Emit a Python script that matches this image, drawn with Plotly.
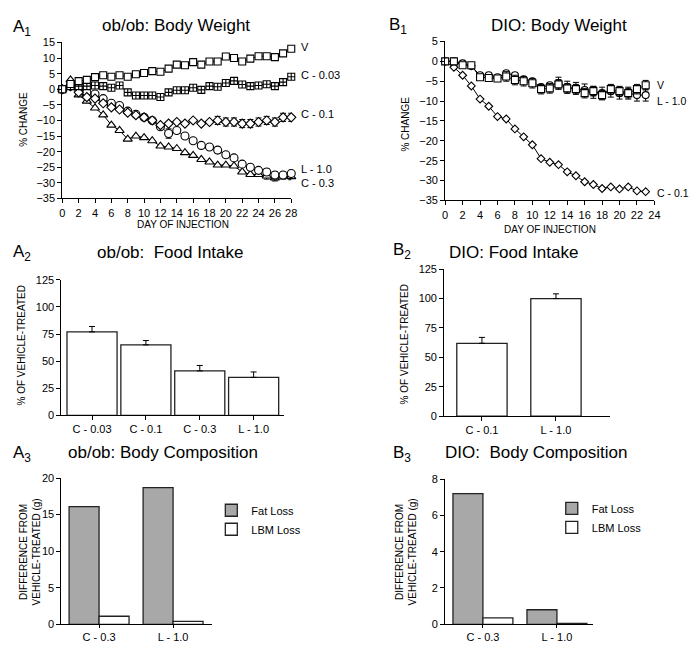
import plotly.graph_objects as go

# page is 697x653; browser body has an 8px margin, so the figure is 681x637
OFF = 8
FW, FH = 681, 637

# ---------------- data ----------------
days_a = list(range(0, 29))
a1_v =    [0, 1.7, 2.6, 3.0, 3.9, 4.5, 4.0, 4.5, 4.0, 4.8, 5.2, 5.8, 5.6, 6.6, 7.9, 7.7, 8.7, 7.9, 8.9, 8.9, 10.5, 10.0, 8.9, 9.8, 10.6, 10.6, 10.3, 11.5, 13.0]
a1_c003 = [0, 1.0, 1.0, 1.0, 1.2, 1.0, 0.5, 1.2, -1.0, -2.0, -2.0, -2.0, -2.5, -1.0, -0.3, -0.3, 0.5, -0.2, 1.0, 0.8, 2.0, 2.7, 1.5, 1.0, 1.2, 1.6, 1.0, 2.3, 4.0]
a1_c01 =  [0, 1.0, -1.0, -2.5, -3.0, -4.5, -5.8, -6.5, -7.5, -8.3, -9.0, -10.0, -11.5, -11.0, -10.5, -11.0, -10.0, -11.0, -10.5, -10.0, -10.5, -10.5, -11.0, -11.0, -10.5, -10.0, -10.5, -9.0, -9.0]
a1_c01_err = [0]*19 + [1.3]*10
a1_l10 =  [0, 1.0, 0.0, -1.0, -1.5, -3.0, -4.5, -5.2, -7.0, -8.0, -9.0, -10.0, -12.0, -14.2, -13.2, -15.0, -16.5, -18.0, -18.5, -19.5, -21.0, -22.0, -24.0, -25.0, -26.0, -26.5, -27.5, -27.5, -27.0]
a1_l10_err = [0]*13 + [1.5] + [0]*5 + [1.0] + [0]*5 + [1.0]*4
a1_c03 =  [0, 3.0, -1.8, -3.8, -6.0, -8.2, -11.5, -13.2, -16.0, -15.0, -15.5, -16.5, -18.2, -18.5, -19.0, -20.3, -21.2, -22.5, -23.3, -24.3, -24.3, -24.6, -26.5, -27.3, -27.3, -27.8, -28.4, -27.8, -28.0]
a1_c03_err = [0]*25 + [1.0]*4

days_b = list(range(0, 24))
b1_c01 = [0, -1.5, -3.5, -6.2, -9.5, -11.3, -13.9, -14.5, -17.0, -19.0, -21.0, -24.5, -25.4, -26.0, -27.8, -28.8, -30.3, -31.0, -32.0, -31.6, -32.1, -31.6, -32.6, -32.8]
b1_v =   [0, 0, -1.0, -1.0, -4.0, -4.2, -4.3, -3.8, -4.7, -5.0, -5.5, -7.0, -6.8, -5.8, -6.8, -7.0, -8.0, -7.5, -8.5, -7.0, -7.5, -8.0, -7.0, -6.0]
b1_v_err = [0]*7 + [1.2]*17
b1_l10 = [0, 0, -0.5, -1.2, -3.5, -3.5, -4.0, -3.0, -3.5, -4.5, -5.0, -6.5, -6.0, -5.5, -6.5, -6.8, -7.2, -7.8, -8.0, -7.5, -8.0, -8.0, -8.5, -8.5]
b1_l10_err = [0]*13 + [1.5]*11

a2_cats = ["C - 0.03", "C - 0.1", "C - 0.3", "L - 1.0"]
a2_vals = [77, 65, 41, 35]
a2_err = [5, 4, 5, 5]

b2_cats = ["C - 0.1", "L - 1.0"]
b2_vals = [62, 100]
b2_err = [5, 4]

a3_cats = ["C - 0.3", "L - 1.0"]
a3_fat = [16.1, 18.7]
a3_lbm = [1.1, 0.4]

b3_cats = ["C - 0.3", "L - 1.0"]
b3_fat = [7.2, 0.8]
b3_lbm = [0.35, 0.05]

# ---------------- helpers ----------------
FONT = "Liberation Sans, Arial, Helvetica, sans-serif"

def fx(px):
    return (px - OFF) / FW

def fy(py):
    return (FH - (py - OFF)) / FH

def dx(a, b):
    return [fx(a), fx(b)]

def dy(top, bottom):
    return [fy(bottom), fy(top)]

fig = go.Figure()

def line_trace(x, y, symbol, size, xa, ya, err=None):
    kw = {}
    if err is not None:
        kw["error_y"] = dict(type="data", array=err, symmetric=True,
                             color="black", thickness=1, width=3)
    fig.add_trace(go.Scatter(x=x, y=y, mode="lines+markers", xaxis=xa, yaxis=ya,
                             line=dict(color="black", width=1),
                             marker=dict(symbol=symbol, size=size, color="white",
                                         line=dict(color="black", width=1.1)),
                             cliponaxis=False, showlegend=False, **kw))

# A1
line_trace(days_a, a1_c03, "triangle-up", 8, "x", "y", a1_c03_err)
line_trace(days_a, a1_l10, "circle", 8, "x", "y", a1_l10_err)
line_trace(days_a, a1_c01, "diamond", 7, "x", "y", a1_c01_err)
line_trace(days_a, a1_c003, "square-cross", 7, "x", "y")
line_trace(days_a, a1_v, "square", 7, "x", "y")

# B1
line_trace(days_b, b1_c01, "diamond", 6, "x2", "y2")
line_trace(days_b, b1_l10, "circle", 7, "x2", "y2", b1_l10_err)
line_trace(days_b, b1_v, "square", 7, "x2", "y2", b1_v_err)

EDGE = "#222222"
# A2
fig.add_trace(go.Bar(x=a2_cats, y=a2_vals, xaxis="x3", yaxis="y3", width=0.93,
                     marker=dict(color="white", line=dict(color=EDGE, width=1.3)),
                     error_y=dict(type="data", array=a2_err, arrayminus=[0]*4, symmetric=False,
                                  color="black", thickness=1, width=3),
                     showlegend=False))
# B2
fig.add_trace(go.Bar(x=b2_cats, y=b2_vals, xaxis="x4", yaxis="y4", width=0.68,
                     marker=dict(color="white", line=dict(color=EDGE, width=1.3)),
                     error_y=dict(type="data", array=b2_err, arrayminus=[0]*2, symmetric=False,
                                  color="black", thickness=1, width=3),
                     showlegend=False))

FAT = "#a8a8a8"
# A3
fig.add_trace(go.Bar(x=a3_cats, y=a3_fat, name="Fat Loss", xaxis="x5", yaxis="y5",
                     marker=dict(color=FAT, line=dict(color=EDGE, width=1.3)), legend="legend"))
fig.add_trace(go.Bar(x=a3_cats, y=a3_lbm, name="LBM Loss", xaxis="x5", yaxis="y5",
                     marker=dict(color="white", line=dict(color=EDGE, width=1.3)), legend="legend"))
# B3
fig.add_trace(go.Bar(x=b3_cats, y=b3_fat, name="Fat Loss", xaxis="x6", yaxis="y6",
                     marker=dict(color=FAT, line=dict(color=EDGE, width=1.3)), legend="legend2"))
fig.add_trace(go.Bar(x=b3_cats, y=b3_lbm, name="LBM Loss", xaxis="x6", yaxis="y6",
                     marker=dict(color="white", line=dict(color=EDGE, width=1.3)), legend="legend2"))

def ax(domain, anchor, **kw):
    d = dict(domain=domain, anchor=anchor, showline=True, linecolor="black", linewidth=1,
             ticks="outside", ticklen=4, tickcolor="black", showgrid=False, zeroline=False,
             tickfont=dict(size=11, color="black", family=FONT))
    d.update(kw)
    return d

layout = dict(
    width=FW, height=FH, margin=dict(l=0, r=0, t=0, b=0),
    paper_bgcolor="white", plot_bgcolor="white",
    font=dict(family=FONT, color="black"),
    barmode="group",
    xaxis=ax(dx(60, 292), "y", range=[0, 28], dtick=2),
    yaxis=ax(dy(37, 196), "x", range=[-35, 15], dtick=5),
    xaxis2=ax(dx(448, 660), "y2", range=[0, 24], dtick=2),
    yaxis2=ax(dy(36, 198), "x2", range=[-35, 5], dtick=5),
    xaxis3=ax(dx(59, 285), "y3", range=[-0.57, 3.57]),
    yaxis3=ax(dy(279, 417), "x3", range=[0, 125], dtick=25),
    xaxis4=ax(dx(447, 615), "y4", range=[-0.51, 1.73]),
    yaxis4=ax(dy(268, 418), "x4", range=[0, 125], dtick=25),
    xaxis5=ax(dx(59, 212), "y5", range=[-0.51, 1.53], ticklen=3),
    yaxis5=ax(dy(481, 630), "x5", range=[0, 20], dtick=5),
    xaxis6=ax(dx(448, 598), "y6", range=[-0.51, 1.49], ticklen=3),
    yaxis6=ax(dy(482, 630), "x6", range=[0, 8], dtick=2),
    bargap=0.19, bargroupgap=0,
    legend=dict(x=fx(211), y=fy(499), xanchor="left", yanchor="top",
                bgcolor="rgba(0,0,0,0)", font=dict(size=11, family=FONT), tracegroupgap=4,
                itemwidth=30),
    legend2=dict(x=fx(556), y=fy(497), xanchor="left", yanchor="top",
                 bgcolor="rgba(0,0,0,0)", font=dict(size=11, family=FONT), tracegroupgap=4,
                 itemwidth=30),
)
fig.update_layout(**layout)

annots = []
def ann(text, x, y, size, xanchor="center", yanchor="middle", angle=0):
    annots.append(dict(text=text, x=fx(x), y=fy(y), xref="paper", yref="paper",
                       showarrow=False, xanchor=xanchor, yanchor=yanchor, textangle=angle,
                       font=dict(size=size, family=FONT, color="black")))

# panel titles
ann("ob/ob: Body Weight", 175, 20, 17)
ann("DIO: Body Weight", 563, 20, 17)
ann("ob/ob:  Food Intake", 170, 251, 17)
ann("DIO: Food Intake", 517, 251, 17)
ann("ob/ob: Body Composition", 162, 455, 17)
ann("DIO:  Body Composition", 540, 455, 17)
# panel labels
ann("A<sub>1</sub>", 8, 22, 17, xanchor="left")
ann("B<sub>1</sub>", 389, 20, 17, xanchor="left")
ann("A<sub>2</sub>", 8, 252, 17, xanchor="left")
ann("B<sub>2</sub>", 393, 250, 17, xanchor="left")
ann("A<sub>3</sub>", 8, 456, 17, xanchor="left")
ann("B<sub>3</sub>", 393, 456, 17, xanchor="left")
# axis titles
ann("% CHANGE", 21, 115, 10, angle=-90)
ann("DAY OF INJECTION", 182, 223, 10)
ann("% CHANGE", 408, 120, 10, angle=-90)
ann("DAY OF INJECTION", 554, 228, 10)
ann("% OF VEHICLE-TREATED", 19, 346, 10, angle=-90)
ann("% OF VEHICLE-TREATED", 407, 345, 10, angle=-90)
ann("DIFFERENCE FROM<br>VEHICLE-TREATED (g)", 27, 556, 10, angle=-90)
ann("DIFFERENCE FROM<br>VEHICLE-TREATED (g)", 408, 556, 10, angle=-90)
# series labels
ann("V", 300, 42, 11, xanchor="left")
ann("C - 0.03", 300, 70, 11, xanchor="left")
ann("C - 0.1", 300, 110, 11, xanchor="left")
ann("L - 1.0", 300, 166, 11, xanchor="left")
ann("C - 0.3", 300, 180, 11, xanchor="left")
ann("V", 661, 80, 10.5, xanchor="left")
ann("L - 1.0", 661, 97, 10.5, xanchor="left")
ann("C - 0.1", 661, 190, 10.5, xanchor="left")

fig.update_layout(annotations=annots)
fig.write_html("out.html")
